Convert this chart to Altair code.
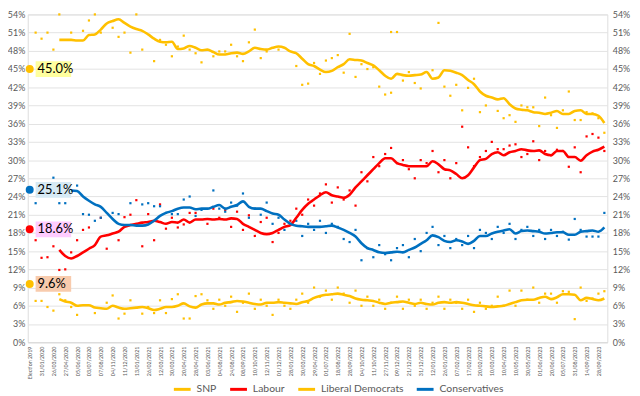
import altair as alt
import pandas as pd

N = 98
parties = ["SNP", "Labour", "Liberal Democrats", "Conservatives"]
colors = ["#FFC000", "#FF0000", "#FFC000", "#0070C0"]

tick_labels = ["Election 2019", "31/01/2020", "26/03/2020", "27/04/2020", "05/06/2020", "03/07/2020",
               "07/08/2020", "04/11/2020", "11/12/2020", "13/01/2021", "26/02/2021", "12/03/2021",
               "30/03/2021", "20/04/2021", "28/04/2021", "03/06/2021", "04/08/2021", "24/08/2021",
               "08/09/2021", "10/10/2021", "12/11/2021", "01/12/2021", "28/01/2022", "30/03/2022",
               "29/04/2022", "01/07/2022", "18/08/2022", "28/09/2022", "04/10/2022", "11/10/2022",
               "27/11/2022", "09/12/2022", "21/12/2022", "31/12/2022", "12/01/2023", "26/01/2023",
               "07/02/2023", "17/02/2023", "20/02/2023", "10/03/2023", "10/04/2023", "10/05/2023",
               "30/05/2023", "01/06/2023", "20/06/2023", "05/07/2023", "31/08/2023", "14/09/2023",
               "28/09/2023"]

# Election 2019 result labels
election_vals = [45.0, 18.6, 9.6, 25.1]
election_text = ["45.0%", "18.6%", "9.6%", "25.1%"]
election_bg = ["#FFFF9F", "#FFCCFF", "#F8CBAD", "#D6EAF5"]

# rolling averages (index 5..97)
line_start = 5
snp_line = [49.8, 49.8, 49.8, 49.7, 49.7, 50.6, 50.7, 51.5, 52.5, 52.9, 53.2, 52.6, 52.0, 51.6, 51.3,
            50.7, 50.0, 49.5, 49.4, 49.5, 48.3, 48.4, 48.8, 48.5, 48.1, 48.2, 47.8, 47.4, 47.4, 47.6,
            47.7, 47.5, 47.9, 48.5, 48.3, 48.2, 48.5, 48.7, 48.5, 47.9, 47.6, 46.7, 45.8, 45.5, 44.9,
            44.5, 44.7, 45.3, 45.8, 46.6, 46.5, 46.4, 46.0, 45.6, 44.8, 43.9, 43.4, 44.2, 44.0, 43.9,
            44.0, 44.1, 44.5, 43.4, 43.6, 44.8, 44.7, 44.4, 44.0, 43.2, 42.5, 41.3, 40.6, 40.3, 40.0,
            40.2, 39.2, 38.5, 38.3, 38.2, 37.9, 37.8, 37.6, 37.8, 38.1, 37.6, 37.6, 38.1, 38.2, 37.6,
            37.6, 37.3, 36.1]
lab_line = [15.2, 14.2, 13.8, 14.2, 14.8, 15.4, 16.0, 17.4, 17.6, 17.9, 18.2, 19.0, 19.3, 19.5, 19.7,
            19.8, 20.0, 19.8, 19.5, 19.8, 19.7, 20.2, 19.7, 20.2, 20.2, 20.3, 20.2, 20.3, 20.2, 20.4,
            20.3, 19.5, 19.0, 18.5, 18.0, 17.8, 18.0, 18.5, 19.0, 19.3, 20.5, 21.8, 22.8, 23.5, 24.2,
            24.7, 24.2, 24.0, 23.8, 24.3, 25.5, 26.5, 27.5, 28.5, 29.5, 30.3, 30.3, 29.5, 29.2, 29.0,
            29.0, 29.0, 29.0, 29.8, 29.3, 28.5, 28.3, 27.7, 27.0, 27.5, 28.8, 30.0, 30.2, 31.0, 31.3,
            30.8, 31.3, 31.5, 31.8, 31.6, 31.5, 31.6, 31.0, 30.8, 31.5, 31.5, 30.5, 30.5, 29.9, 30.8,
            31.4, 31.7, 32.2]
ld_line = [7.1, 6.7, 6.5, 6.0, 6.1, 6.1, 5.7, 5.6, 5.5, 6.0, 5.7, 5.5, 5.6, 5.7, 5.8, 5.6, 5.3, 5.5,
           5.8, 5.8, 6.0, 6.4, 5.9, 5.7, 6.2, 6.4, 6.4, 6.2, 6.5, 6.6, 6.8, 6.7, 6.5, 6.3, 6.2, 6.5,
           6.5, 6.6, 6.5, 6.4, 6.3, 6.6, 6.8, 7.3, 7.6, 7.8, 7.9, 8.0, 7.8, 7.6, 7.2, 7.0, 6.9, 6.8,
           6.5, 6.3, 6.5, 6.6, 6.7, 6.5, 6.3, 6.5, 6.3, 6.2, 6.5, 6.6, 6.5, 6.6, 6.5, 6.3, 6.1, 6.0,
           5.9, 5.8, 5.9, 6.0, 6.3, 6.6, 6.9, 7.0, 7.0, 7.3, 7.5, 7.1, 7.4, 7.9, 7.9, 7.8, 6.9, 7.3,
           7.1, 6.9, 7.2]
con_line = [24.8, 25.0, 25.0, 24.9, 24.0, 23.3, 22.7, 22.3, 21.3, 20.3, 19.5, 19.3, 19.3, 19.2, 19.2,
            19.4, 20.0, 20.8, 21.3, 21.6, 22.0, 22.2, 22.2, 21.9, 22.0, 22.0, 22.3, 22.6, 22.0, 22.3,
            22.6, 23.2, 22.3, 22.0, 22.0, 21.6, 21.2, 21.0, 20.2, 19.5, 19.2, 19.1, 19.0, 19.0, 19.0,
            19.1, 19.2, 18.9, 18.5, 18.0, 17.4, 16.3, 15.5, 15.2, 14.8, 14.7, 14.8, 14.9, 14.8, 15.2,
            15.6, 16.2, 16.8, 17.6, 17.3, 16.7, 16.5, 16.8, 16.6, 16.2, 16.7, 17.5, 17.5, 17.9, 18.2,
            18.4, 18.6, 17.9, 18.3, 18.4, 18.3, 18.2, 17.9, 18.0, 18.1, 18.1, 17.7, 17.7, 18.2, 18.3,
            18.4, 18.2, 18.9]

# individual polls: (index, value)
snp_poll_idx = [1, 2, 3, 4, 5, 7, 9, 10, 11, 12, 14, 15, 16, 17, 18, 19, 21, 22, 23, 24, 25, 26, 27, 28,
                29, 31, 32, 33, 34, 35, 36, 37, 38, 39, 40, 42, 45, 46, 47, 48, 49, 50, 51, 52, 53, 54,
                55, 56, 57, 58, 59, 60, 61, 61, 62, 63, 64, 65, 66, 68, 69, 70, 71, 72, 73, 74, 75, 76,
                77, 79, 80, 81, 82, 83, 84, 85, 86, 87, 88, 89, 90, 91, 92, 93, 94, 95, 96, 97]
snp_poll_val = [51.0, 50.0, 51.0, 48.2, 54.0, 51.0, 51.3, 53.0, 54.0, 51.0, 51.8, 50.3, 51.0, 47.7, 54.0,
                48.2, 46.3, 49.8, 49.0, 47.1, 48.7, 50.5, 48.2, 47.6, 46.1, 47.1, 47.9, 47.9, 49.0, 47.1,
                46.3, 49.4, 51.5, 46.8, 47.9, 48.2, 45.5, 42.4, 42.6, 46.0, 44.2, 46.4, 46.8, 47.3, 44.4,
                50.8, 43.7, 45.8, 45.0, 45.3, 42.1, 40.8, 41.1, 51.1, 51.1, 43.1, 44.5, 42.7, 41.8, 44.8,
                52.6, 42.1, 40.6, 42.4, 38.2, 41.9, 43.4, 37.9, 39.0, 38.1, 36.9, 37.4, 36.3, 39.0, 38.7,
                38.7, 35.6, 40.3, 37.4, 35.3, 38.2, 41.3, 36.6, 36.6, 37.9, 37.7, 36.9, 34.5]
lab_poll_idx = [1, 2, 3, 4, 5, 6, 7, 8, 9, 10, 12, 13, 15, 16, 17, 18, 19, 20, 21, 22, 23, 24, 25, 26,
                27, 28, 30] + list(range(31, 98))
lab_poll_val = [16.8, 13.9, 14.0, 15.8, 11.9, 12.0, 14.8, 16.8, 18.5, 18.9, 20.5, 15.4, 16.8, 20.6, 21.0,
                23.4, 15.8, 21.1, 16.8, 22.7, 18.7, 20.5, 18.9, 19.4, 21.3, 21.3, 19.5,
                22.0, 20.5, 21.8, 19.0, 21.5, 18.5, 20.9, 17.5, 19.8, 20.5, 16.5, 18.0, 19.5, 20.0, 22.0,
                21.0, 23.5, 22.5, 24.5, 26.0, 23.0, 25.5, 23.5, 25.0, 22.5, 28.0, 26.5, 30.5, 29.0, 31.0,
                32.0, 29.5, 30.0, 28.5, 27.0, 30.0, 29.5, 31.5, 28.0, 30.0, 27.0, 29.5, 35.5, 32.1, 29.0,
                30.5, 31.5, 33.0, 31.8, 31.8, 32.4, 32.6, 30.5, 31.0, 33.1, 30.0, 31.5, 30.8, 31.7, 31.5,
                28.9, 32.1, 28.0, 33.9, 34.3, 33.7, 31.5]
con_poll_idx = [1, 4, 5, 6, 8, 9, 10, 11, 12, 14, 15, 17, 19, 20, 21, 22, 23, 24, 25, 26, 27, 28, 29,
                31] + list(range(32, 98))
con_poll_val = [22.9, 27.1, 22.9, 22.9, 25.8, 21.1, 21.0, 20.0, 20.5, 21.3, 21.1, 22.9, 22.7, 22.9, 22.4,
                22.4, 21.3, 21.1, 21.1, 23.5, 24.0, 20.8, 21.8, 25.0,
                22.0, 21.5, 23.0, 22.5, 24.5, 20.5, 22.0, 21.0, 23.0, 19.5, 20.5, 18.5, 19.5, 20.0, 17.5,
                19.5, 18.5, 20.0, 18.0, 19.5, 19.0, 17.0, 16.5, 18.5, 13.5, 15.5, 14.0, 16.0, 14.5, 13.5,
                15.5, 16.0, 14.0, 17.0, 15.0, 18.0, 19.0, 16.0, 17.5, 15.5, 17.0, 16.0, 17.5, 15.5, 18.5,
                18.0, 17.0, 19.0, 18.0, 19.5, 17.0, 18.5, 19.0, 17.5, 18.5, 17.0, 18.5, 17.5, 18.2, 16.9,
                20.3, 18.5, 17.4, 17.4, 17.4, 21.3]
ld_poll_idx = [1, 2, 3, 4, 5, 6, 7, 8, 11, 13, 14, 15, 16, 17, 19, 20, 21, 22, 23, 24, 25, 26, 27, 28,
               29, 30] + list(range(31, 98))
ld_poll_val = [6.8, 6.8, 5.8, 5.2, 7.9, 6.9, 5.8, 4.5, 4.8, 6.5, 7.7, 3.9, 4.7, 6.9, 4.7, 5.8, 4.8, 6.9,
               4.8, 7.1, 7.9, 3.9, 3.9, 7.6, 7.9, 6.9,
               5.5, 7.0, 6.0, 7.5, 5.0, 6.5, 8.0, 5.5, 7.0, 6.0, 4.5, 7.0, 6.0, 5.5, 7.0, 8.0, 6.5, 9.0,
               7.5, 8.5, 7.0, 9.0, 8.0, 6.5, 8.5, 6.0, 7.5, 6.0, 7.0, 5.5, 6.5, 7.5, 5.5, 7.0, 6.0, 7.0,
               5.5, 6.5, 7.5, 5.5, 7.0, 6.5, 5.5, 7.0, 5.0, 6.5, 5.5, 6.0, 7.5, 6.0, 8.5, 6.0, 8.5, 7.0,
               9.0, 6.5, 8.0, 8.0, 6.5, 8.4, 8.3, 3.8, 9.0, 6.8, 7.2, 8.0, 8.4]

# ---- build tables ----
line_rows = []
for p, arr in zip(parties, [snp_line, lab_line, ld_line, con_line]):
    for k, v in enumerate(arr):
        line_rows.append({"idx": line_start + k, "party": p, "value": v})
lines_df = pd.DataFrame(line_rows)

poll_rows = []
for p, ii, vv in zip(parties, [snp_poll_idx, lab_poll_idx, ld_poll_idx, con_poll_idx],
                     [snp_poll_val, lab_poll_val, ld_poll_val, con_poll_val]):
    for i, v in zip(ii, vv):
        poll_rows.append({"idx": i, "pparty": p, "value": v})
polls_df = pd.DataFrame(poll_rows)

elec_df = pd.DataFrame({"idx": [0] * 4, "eparty": parties, "value": election_vals,
                        "label": election_text, "bg": election_bg})

FONT = "Lato"
GRAY = "#595959"
label_expr = "[" + ",".join("'%s'" % t for t in tick_labels) + "][round(datum.value/2)]"

xscale = alt.Scale(domain=[-0.33, 97.5], nice=False, zero=False)
yscale = alt.Scale(domain=[0, 54], nice=False)

x_axis = alt.Axis(values=list(range(0, 98, 2)), labelExpr=label_expr, labelAngle=270,
                  labelFontSize=5.4, labelColor=GRAY, grid=False, ticks=False,
                  domain=True, domainColor="#D9D9D9", title=None, labelPadding=4,
                  labelFont=FONT, labelOverlap=False, labelBound=False)
y_left = alt.Axis(values=list(range(0, 55, 3)), labelExpr="datum.value + '%'", title=None,
                  grid=True, gridColor="#E3E3E3", domain=False, ticks=False, labelColor=GRAY,
                  labelFontSize=9, labelFont=FONT, labelPadding=3)
y_right = alt.Axis(values=list(range(0, 55, 3)), labelExpr="datum.value + '%'", title=None,
                   grid=False, domain=False, ticks=False, labelColor=GRAY, orient="right",
                   labelFontSize=9, labelFont=FONT, labelPadding=5)

X = alt.X("idx:Q", scale=xscale, axis=x_axis)

dots = alt.Chart(polls_df).mark_square(size=5, opacity=1).encode(
    x=X,
    y=alt.Y("value:Q", scale=yscale, axis=y_left),
    color=alt.Color("pparty:N", scale=alt.Scale(domain=parties, range=colors), legend=None),
)

lines = alt.Chart(lines_df).mark_line(strokeWidth=2.6, interpolate="monotone").encode(
    x=X,
    y=alt.Y("value:Q", scale=yscale, axis=y_right),
    color=alt.Color("party:N", scale=alt.Scale(domain=parties, range=colors),
                    legend=alt.Legend(orient="none", legendX=146, legendY=369, direction="horizontal",
                                      title=None, symbolType="stroke", symbolStrokeWidth=3,
                                      symbolSize=290, labelFontSize=10.5, labelColor=GRAY,
                                      labelFont=FONT, columnPadding=6, labelOffset=4)),
    detail="party:N",
)

boxes = alt.Chart(elec_df).mark_rect(width=36, height=16, xOffset=24).encode(
    x=X,
    y=alt.Y("value:Q", scale=yscale, axis=None),
    color=alt.Color("bg:N", scale=None),
)
circles = alt.Chart(elec_df).mark_circle(size=65, opacity=1).encode(
    x=X,
    y=alt.Y("value:Q", scale=yscale, axis=None),
    color=alt.Color("eparty:N", scale=alt.Scale(domain=parties, range=colors), legend=None),
)
texts = alt.Chart(elec_df).mark_text(align="left", dx=8, fontSize=13, font=FONT, color="#000000").encode(
    x=X,
    y=alt.Y("value:Q", scale=yscale, axis=None),
    text="label:N",
)

chart = alt.layer(dots, lines, boxes, circles, texts).resolve_scale(
    color="independent"
).resolve_axis(y="independent").properties(
    width=587, height=332,
    autosize=alt.AutoSizeParams(type="none"),
    padding={"left": 20, "top": 4, "right": 25, "bottom": 52},
).configure_view(stroke=None).configure(font=FONT)

chart.save("out.html", embed_options={"renderer": "svg", "actions": False})
